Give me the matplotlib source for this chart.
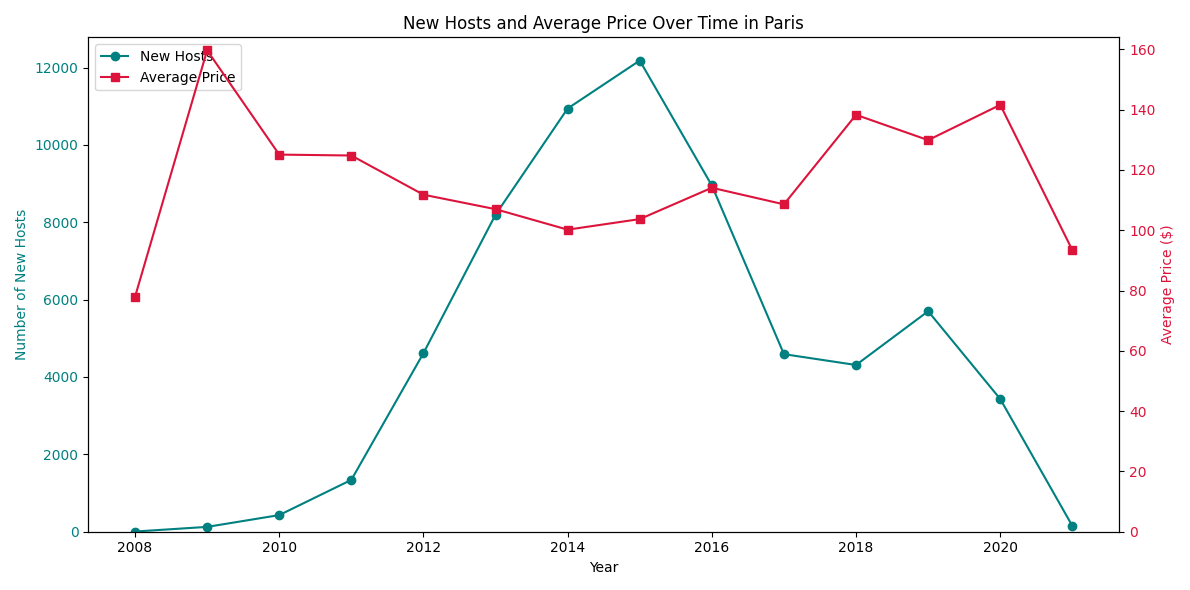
import matplotlib.pyplot as plt

years = list(range(2008, 2022))
new_hosts = [5, 125, 430, 1340, 4615, 8195, 10940, 12180, 8950, 4590, 4310, 5700, 3430, 150]
avg_price = [77.9, 159.7, 125.1, 124.8, 111.8, 107.0, 100.2, 103.7, 114.1, 108.6, 138.3, 129.9, 141.6, 93.4]

fig, ax1 = plt.subplots(figsize=(11.9, 5.9), dpi=100)
l1 = ax1.plot(years, new_hosts, color='teal', marker='o', label='New Hosts')
ax1.set_xlabel('Year')
ax1.set_ylabel('Number of New Hosts', color='teal')
ax1.tick_params(axis='y', labelcolor='teal')
ax1.set_ylim(0, 12780)

ax2 = ax1.twinx()
l2 = ax2.plot(years, avg_price, color='crimson', marker='s', label='Average Price')
ax2.set_ylabel('Average Price ($)', color='crimson')
ax2.tick_params(axis='y', labelcolor='crimson')
ax2.set_ylim(0, 164)

lines = l1 + l2
ax1.legend(lines, [l.get_label() for l in lines], loc='upper left')
plt.title('New Hosts and Average Price Over Time in Paris')
fig.tight_layout()
plt.savefig('out.png')
